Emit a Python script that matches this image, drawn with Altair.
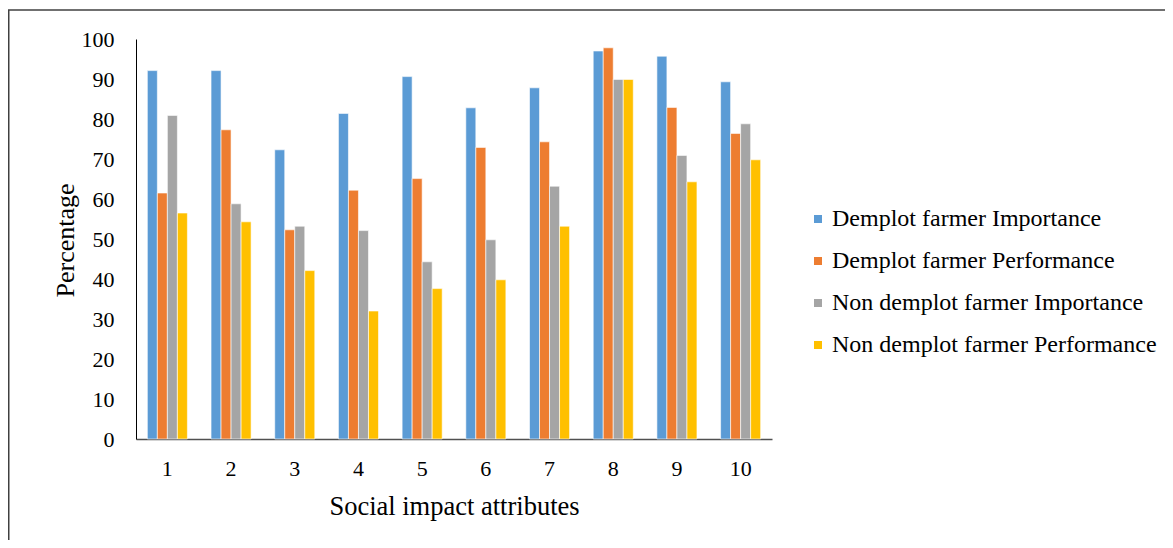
import altair as alt
import pandas as pd

attributes = ["1", "2", "3", "4", "5", "6", "7", "8", "9", "10"]
series = [
    "Demplot farmer Importance",
    "Demplot farmer Performance",
    "Non demplot farmer Importance",
    "Non demplot farmer Performance",
]
demplot_importance = [92.1, 92.1, 72.3, 81.4, 90.6, 82.8, 87.8, 97.0, 95.7, 89.3]
demplot_performance = [61.5, 77.3, 52.3, 62.2, 65.1, 72.9, 74.3, 97.8, 82.9, 76.4]
non_demplot_importance = [80.9, 58.8, 53.2, 52.1, 44.3, 49.8, 63.2, 89.9, 70.9, 78.8]
non_demplot_performance = [56.5, 54.3, 42.1, 32.0, 37.6, 39.8, 53.2, 89.9, 64.3, 69.8]
colors = ["#5B9BD5", "#ED7D31", "#A5A5A5", "#FFC000"]

values_by_series = [
    demplot_importance,
    demplot_performance,
    non_demplot_importance,
    non_demplot_performance,
]
rows = []
for s, vals in zip(series, values_by_series):
    for a, v in zip(attributes, vals):
        rows.append({"attribute": a, "series": s, "value": v})
df = pd.DataFrame(rows)

FONT = "Liberation Serif"

bars = (
    alt.Chart(df)
    .mark_bar(stroke="white", strokeWidth=0.6)
    .encode(
        x=alt.X(
            "attribute:N",
            sort=attributes,
            scale=alt.Scale(paddingInner=0.371, paddingOuter=0.178),
            axis=alt.Axis(
                title="Social impact attributes",
                labelAngle=0,
                ticks=False,
                grid=False,
                domainColor="#505050",
                domainWidth=1.5,
                labelPadding=19,
                labelFontSize=22,
                labelFont=FONT,
                labelColor="black",
                titleFont=FONT,
                titleFontSize=26.5,
                titleFontWeight="normal",
                titleColor="black",
                titleX=318,
                titleY=75,
                titleBaseline="alphabetic",
            ),
        ),
        xOffset=alt.XOffset("series:N", sort=series, scale=alt.Scale(paddingInner=0, paddingOuter=0)),
        y=alt.Y(
            "value:Q",
            scale=alt.Scale(domain=[0, 100], nice=False),
            axis=alt.Axis(
                title="Percentage",
                values=list(range(0, 101, 10)),
                ticks=False,
                grid=False,
                domainColor="black",
                domainWidth=1,
                labelPadding=22,
                labelFontSize=22,
                labelFont=FONT,
                labelColor="black",
                titleFont=FONT,
                titleFontSize=26,
                titleFontWeight="normal",
                titleColor="black",
                titleX=-63,
                titleY=201,
                titleBaseline="alphabetic",
            ),
        ),
        color=alt.Color(
            "series:N",
            sort=series,
            scale=alt.Scale(domain=series, range=colors),
            legend=alt.Legend(
                title=None,
                orient="none",
                legendX=670,
                legendY=168,
                symbolType="square",
                symbolSize=64,
                symbolStrokeWidth=0,
                labelFont=FONT,
                labelFontSize=24,
                labelColor="black",
                labelLimit=0,
                labelOffset=2,
                rowPadding=18,
                padding=0,
            ),
        ),
    )
)

frame_df = pd.DataFrame({"k": [0]})
top_line = (
    alt.Chart(frame_df)
    .mark_rule(color="#404040", strokeWidth=1.5)
    .encode(x=alt.value(-128), x2=alt.value(1029), y=alt.value(-29))
)
left_line = (
    alt.Chart(frame_df)
    .mark_rule(color="#404040", strokeWidth=1.5)
    .encode(x=alt.value(-127.25), y=alt.value(-29), y2=alt.value(501))
)

chart = (
    alt.layer(bars, top_line, left_line)
    .properties(
        width=636,
        height=400,
        autosize=alt.AutoSizeParams(type="none"),
        padding={"left": 128, "top": 31, "right": 393, "bottom": 101},
    )
    .configure_view(stroke=None)
)

chart.save("out.html", embed_options={"renderer": "svg", "actions": False})
